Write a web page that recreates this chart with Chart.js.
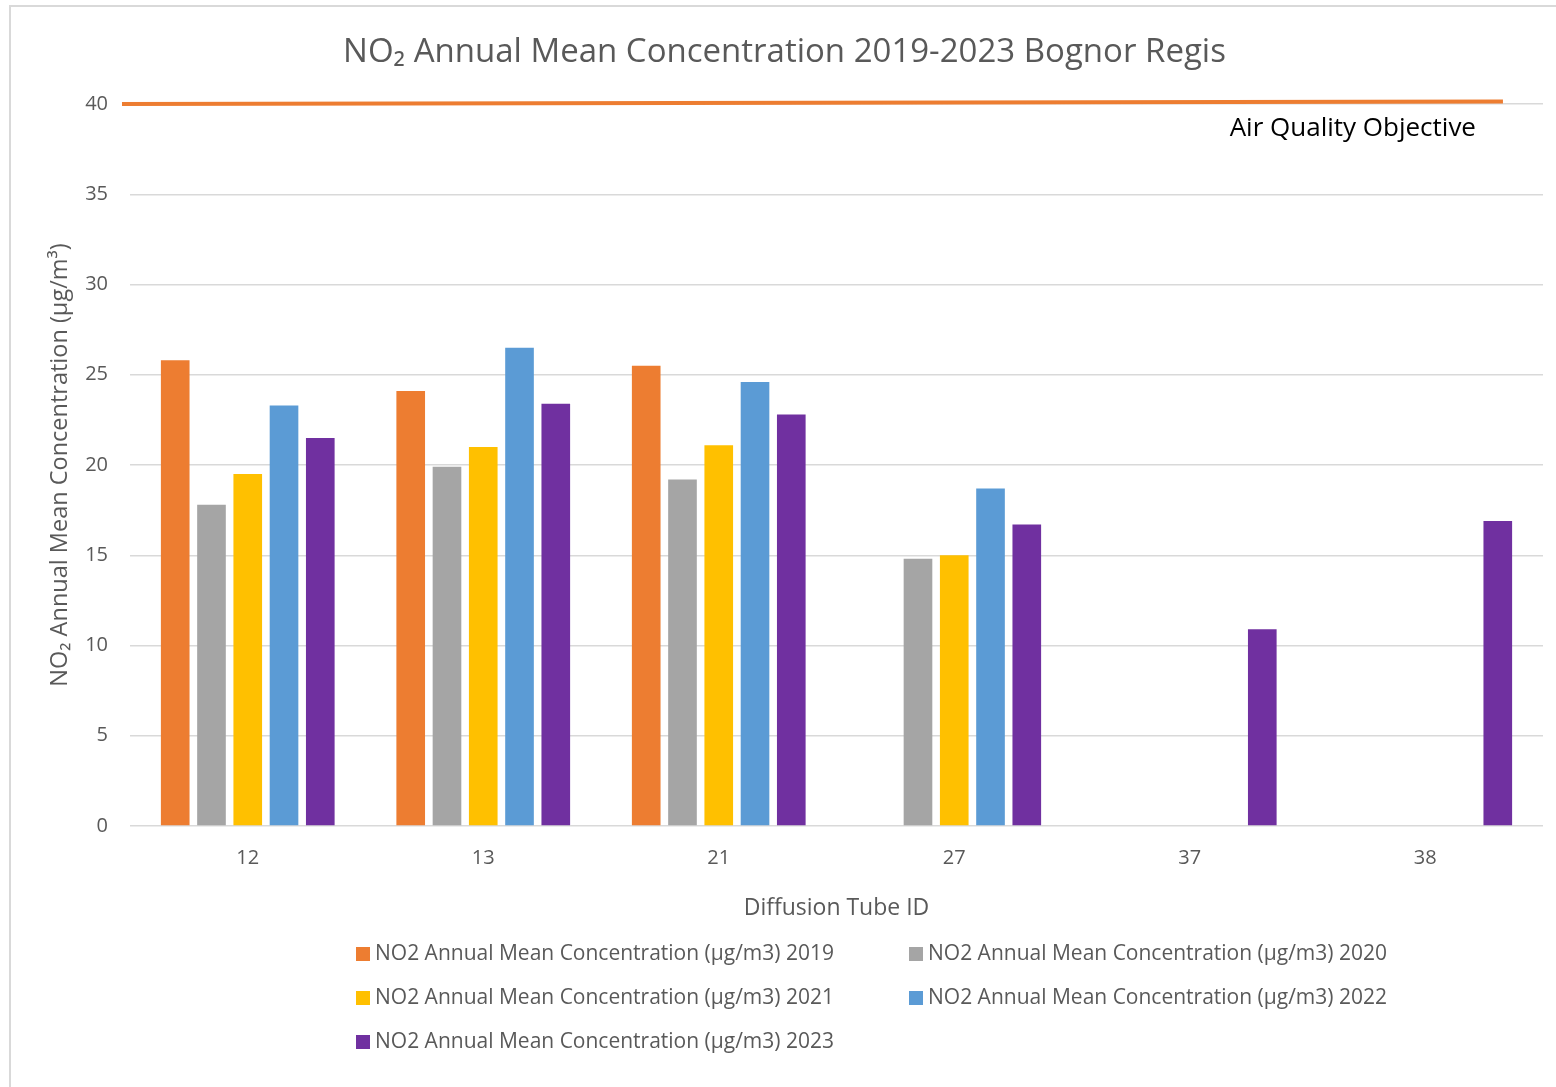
<!DOCTYPE html>
<html lang="en">

<head>
    <meta charset="UTF-8">
    <title>NO2 Annual Mean Concentration 2019-2023 Bognor Regis</title>
    <script src="https://cdn.jsdelivr.net/npm/chart.js"></script>
    <style>
        body { margin: 0; background: #fff; }
        #wrap { position: absolute; left: 0; top: 0; width: 1556px; height: 1087px; }
        #frame { position: absolute; left: 9px; top: 5px; width: 1600px; height: 1200px;
                 border-left: 2px solid #d9d9d9; border-top: 2px solid #d9d9d9; }
        #legend { position: absolute; left: 356px; top: 938px; display: grid;
                  grid-template-columns: 553px 553px; row-gap: 16px;
                  font-family: "Open Sans", sans-serif; font-size: 21px; color: #595959; }
        #legend div { height: 28px; line-height: 28px; white-space: nowrap; }
        #legend span { display: inline-block; width: 14px; height: 14px; margin-right: 5px; vertical-align: -1px; }
    </style>
</head>

<body>
    <div id="frame"></div>
    <div id="wrap">
        <canvas id="no2chart" width="1556" height="1087"></canvas>
    </div>
    <div id="legend"></div>
</body>
<script>
    // Diffusion tube IDs
    const tubes = ['12', '13', '21', '27', '37', '38'];

    // annual means, µg/m3 (null = no data that year)
    const no2_2019 = [25.8, 24.1, 25.5, null, null, null];
    const no2_2020 = [17.8, 19.9, 19.2, 14.8, null, null];
    const no2_2021 = [19.5, 21.0, 21.1, 15.0, null, null];
    const no2_2022 = [23.3, 26.5, 24.6, 18.7, null, null];
    const no2_2023 = [21.5, 23.4, 22.8, 16.7, 10.9, 16.9];

    const years = ['2019', '2020', '2021', '2022', '2023'];
    const colours = ['#ED7D31', '#A5A5A5', '#FFC000', '#5B9BD5', '#7030A0'];

    // objective line, x in category units of the tube axis
    const objectiveLabel = 'Air Quality Objective';
    const objectiveX = [-0.534, 5.33];
    const objectiveY = [40, 40.14];

    const yTicks = [0, 5, 10, 15, 20, 25, 30, 35, 40];

    const fontFamily = '"Open Sans", sans-serif';
    Chart.defaults.font.family = fontFamily;
    Chart.defaults.color = '#595959';

    const series = [no2_2019, no2_2020, no2_2021, no2_2022, no2_2023];
    const barSets = series.map((vals, i) => ({
        label: 'NO2 Annual Mean Concentration (µg/m3) ' + years[i],
        data: vals,
        backgroundColor: colours[i],
        categoryPercentage: 0.77,
        barPercentage: 0.79
    }));

    // 40 µg/m3 objective line + its caption
    const objectiveLine = {
        id: 'objectiveLine',
        afterDatasetsDraw(chart) {
            const ctx = chart.ctx;
            const xs = chart.scales.x;
            const ys = chart.scales.y;
            const x0 = xs.getPixelForValue(objectiveX[0]);
            const x1 = xs.getPixelForValue(objectiveX[1]);
            const y0 = ys.getPixelForValue(objectiveY[0]);
            const y1 = ys.getPixelForValue(objectiveY[1]);
            ctx.save();
            ctx.strokeStyle = '#ED7D31';
            ctx.lineWidth = 4;
            ctx.beginPath();
            ctx.moveTo(x0, y0);
            ctx.lineTo(x1, y1);
            ctx.stroke();

            ctx.font = '26px ' + fontFamily;
            ctx.fillStyle = '#000';
            ctx.textAlign = 'right';
            ctx.textBaseline = 'middle';
            ctx.fillText(objectiveLabel, x1 - 27, y1 + 27);
            ctx.restore();
        }
    };

    new Chart(document.getElementById('no2chart'), {
        type: 'bar',
        data: { labels: tubes, datasets: barSets },
        options: {
            responsive: false,
            animation: false,
            layout: { padding: { left: 26, right: 13, top: 0, bottom: 0 } },
            plugins: {
                legend: { display: false },
                tooltip: { enabled: false },
                title: {
                    display: true,
                    text: 'NO₂ Annual Mean Concentration 2019-2023 Bognor Regis',
                    color: '#595959',
                    font: { size: 33, weight: 'normal' },
                    padding: { top: 33, bottom: 31.4 }
                }
            },
            scales: {
                x: {
                    grid: { display: false },
                    border: { display: false },
                    ticks: { font: { size: 20 }, padding: 12 },
                    title: {
                        display: true,
                        text: 'Diffusion Tube ID',
                        font: { size: 23 },
                        padding: { top: 0, bottom: 165 }
                    },
                    afterFit: (s) => { s.height = 261; }
                },
                y: {
                    min: 0,
                    max: 40,
                    afterBuildTicks: (s) => { s.ticks = yTicks.map(v => ({ value: v })); },
                    grid: { color: '#d9d9d9', lineWidth: 1.5, drawTicks: false },
                    border: { display: false },
                    ticks: { font: { size: 20 }, padding: 22 },
                    title: {
                        display: true,
                        text: 'NO₂ Annual Mean Concentration (µg/m³)',
                        font: { size: 23.5 },
                        padding: { top: 20, bottom: 0 }
                    },
                    afterFit: (s) => { s.width = 104; }
                }
            }
        },
        plugins: [objectiveLine]
    });

    // two-column legend like the original
    const legend = document.getElementById('legend');
    barSets.forEach((d, i) => {
        const item = document.createElement('div');
        item.innerHTML = '<span style="background:' + colours[i] + '"></span>' + d.label;
        legend.appendChild(item);
    });
</script>

</html>
